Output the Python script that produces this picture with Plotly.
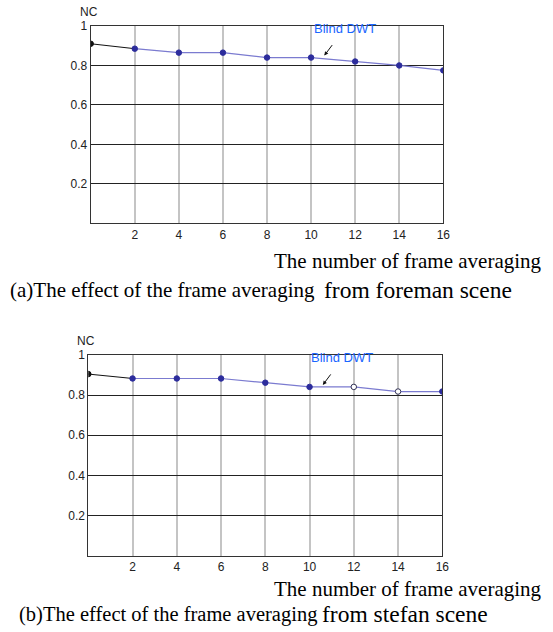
import plotly.graph_objects as go

# ---- data ----
frames = [0, 2, 4, 6, 8, 10, 12, 14, 16]
nc_foreman = [0.91, 0.885, 0.865, 0.865, 0.84, 0.84, 0.82, 0.80, 0.775]
nc_stefan = [0.905, 0.883, 0.883, 0.883, 0.862, 0.841, 0.841, 0.818, 0.818]
hollow_stefan = [12, 14]
x_ticks = [2, 4, 6, 8, 10, 12, 14, 16]
y_ticks = [0.2, 0.4, 0.6, 0.8, 1.0]
y_ticktext = ["0.2", "0.4", "0.6", "0.8", "1"]
series_name = "Blind DWT"
x_title = "The number of frame averaging"
captions = [("(a)The effect of the frame averaging", "from foreman scene"),
            ("(b)The effect of the frame averaging", "from stefan scene")]

W, H = 553, 632
LINE_C = "#7b7bd0"
MARK_C = "#2c2c9c"
TXT_BLUE = "#1a66ff"
SANS = "Liberation Sans, Arial, sans-serif"
SERIF = "Liberation Serif, Times New Roman, serif"

fig = go.Figure()

# panel geometry in pixels: (left, right, top, bottom)
panels = [(90.7, 443.3, 26, 223.3), (88.3, 442.3, 355, 555.7)]
caption_x = [(8, 322), (17, 320)]
caption_sizes = [(21, 23.5), (20.5, 23.5)]
title_y = [261, 589]
caption_y = [290, 614]
datasets = [(nc_foreman, []), (nc_stefan, hollow_stefan)]

for i, ((l, r, t, b), (vals, hollow)) in enumerate(zip(panels, datasets)):
    n = "" if i == 0 else str(i + 1)
    xa, ya = "x" + n, "y" + n
    # black first segment
    fig.add_trace(go.Scatter(x=frames[:2], y=vals[:2], mode="lines",
                             line=dict(color="#111111", width=1),
                             xaxis=xa, yaxis=ya, showlegend=False, hoverinfo="skip"))
    # rest of the line
    fig.add_trace(go.Scatter(x=frames[1:], y=vals[1:], mode="lines",
                             line=dict(color=LINE_C, width=1.2),
                             xaxis=xa, yaxis=ya, showlegend=False, name=series_name))
    fill = []
    edge = []
    for k, f in enumerate(frames):
        if k == 0:
            fill.append("#111111"); edge.append("#111111")
        elif f in hollow:
            fill.append("white"); edge.append("#333355")
        else:
            fill.append(MARK_C); edge.append(MARK_C)
    fig.add_trace(go.Scatter(x=frames, y=vals, mode="markers",
                             marker=dict(size=5.5, color=fill, line=dict(color=edge, width=1)),
                             xaxis=xa, yaxis=ya, showlegend=False, name=series_name))

    axkw = dict(showline=True, linecolor="#333333", linewidth=1, mirror=True,
                zeroline=False, ticks="", automargin=False)
    fig.layout["xaxis" + n] = dict(
        domain=[l / W, r / W], anchor=ya, range=[0, 16],
        tickvals=x_ticks, showgrid=True, gridcolor="#c4c4c4", gridwidth=1.5,
        tickfont=dict(family=SANS, size=12, color="#222222"), **axkw)
    fig.layout["yaxis" + n] = dict(
        domain=[1 - b / H, 1 - t / H], anchor=xa, range=[0, 1],
        tickvals=y_ticks, ticktext=y_ticktext, showgrid=True,
        gridcolor="#222222", gridwidth=1,
        tickfont=dict(family=SANS, size=12, color="#222222"), **axkw)

    # darker grid line at 10
    fig.add_shape(type="line", xref=xa, yref=ya + " domain", x0=10, x1=10, y0=0, y1=1,
                  line=dict(color="#555555", width=1), layer="below")

    # NC label
    fig.add_annotation(text="NC", xref="paper", yref="paper",
                       x=(l - 2) / W, y=1 - (t - 14) / H, xanchor="center", yanchor="middle",
                       showarrow=False, font=dict(family=SANS, size=12, color="#222222"))
    # Blind DWT label
    fig.add_annotation(text=series_name, xref="paper", yref="paper",
                       x=(l + 254) / W, y=1 - (t + 2) / H, xanchor="center", yanchor="middle",
                       showarrow=False, font=dict(family=SANS, size=13, color=TXT_BLUE))
    # arrow
    ax_tip = 10.6
    fig.add_annotation(text="", xref=xa, yref=ya, x=ax_tip, y=vals[5] + 0.01,
                       ax=9, ay=-12, showarrow=True, arrowhead=2, arrowsize=0.8,
                       arrowwidth=1, arrowcolor="#111111")
    # x title
    fig.add_annotation(text=x_title, xref="paper", yref="paper",
                       x=544 / W, y=1 - title_y[i] / H, xanchor="right", yanchor="middle",
                       showarrow=False, font=dict(family=SERIF, size=21, color="#000000"))
    # caption (two sizes)
    c1, c2 = captions[i]
    x1, x2 = caption_x[i]
    s1, s2 = caption_sizes[i]
    yc = 1 - caption_y[i] / H
    fig.add_annotation(text=c1, xref="paper", yref="paper", x=x1 / W, y=yc,
                       xanchor="left", yanchor="middle", showarrow=False,
                       font=dict(family=SERIF, size=s1, color="#000000"))
    fig.add_annotation(text=c2, xref="paper", yref="paper", x=x2 / W, y=yc,
                       xanchor="left", yanchor="middle", showarrow=False,
                       font=dict(family=SERIF, size=s2, color="#000000"))

fig.update_layout(width=W, height=H, margin=dict(l=0, r=0, t=0, b=0),
                  paper_bgcolor="white", plot_bgcolor="white", showlegend=False)

fig.write_html("out.html", config={"displayModeBar": False},
               post_script="document.body.style.margin='0';")
